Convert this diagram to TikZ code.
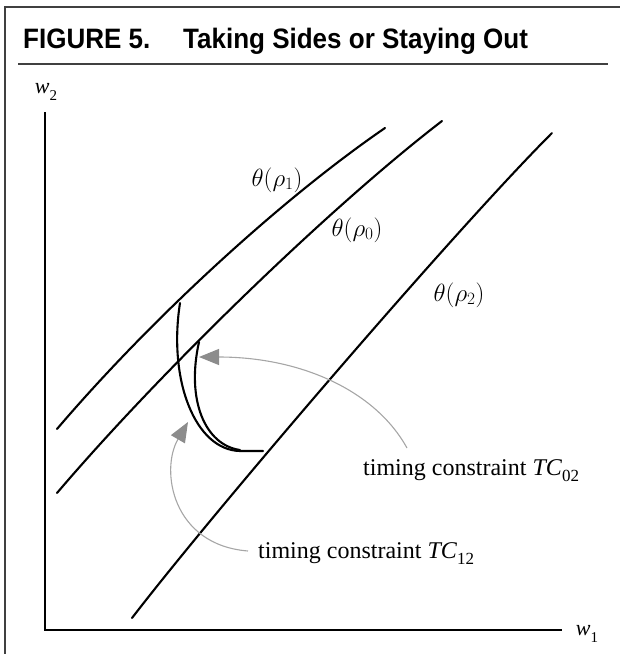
\documentclass[tikz,border=0pt]{standalone}
\usepackage{fontspec}
\setmainfont{Liberation Serif}
\newfontfamily\titlefont{Liberation Sans}
\usetikzlibrary{arrows.meta}
\tikzset{
  frame/.style={draw=black!75, line width=1.4pt},
  axis/.style={draw=black, line width=2.4pt},
  curveline/.style={draw=black, line width=2.1pt, line cap=round},
  tcline/.style={draw=black, line width=2.1pt, line cap=round},
  pointer/.style={draw=black!35, line width=1.1pt,
    -{Triangle[length=20pt,width=16pt,color=black!45,fill=black!45]}},
  lbl/.style={inner sep=0pt, font=\fontsize{24}{28}\selectfont},
  thlbl/.style={inner sep=0pt, font=\fontsize{25}{29}\selectfont},
  axlbl/.style={inner sep=0pt, font=\fontsize{22}{26}\selectfont},
  ttl/.style={inner sep=0pt, anchor=base west, font=\titlefont\bfseries\fontsize{26}{30}\selectfont}
}
\begin{document}
\begin{tikzpicture}[x=1pt,y=-1pt]
\useasboundingbox (0,0) rectangle (620,654);
% frame
\draw[frame] (5,654) -- (5,7) -- (620,7);
\node[ttl] (fig) at (23,48) {\scalebox{1}[1.08]{FIGURE 5.}};
\node[ttl] (title) at (183,48) {\scalebox{1}[1.08]{Taking Sides or Staying Out}};
\draw[frame] (18,64) -- (608,64);
% axes
\coordinate (ytop) at (45,112);
\coordinate (origin) at (45,630);
\coordinate (xend) at (562,630);
\draw[axis] (ytop) -- (origin) -- (xend);
\node[axlbl] (w2) at (46,92) {\textit{w}\raisebox{-0.28em}{\fontsize{15}{17}\selectfont 2}};
\node[axlbl] (w1) at (587,634) {\textit{w}\raisebox{-0.28em}{\fontsize{15}{17}\selectfont 1}};
% theta curves
\coordinate (r1a) at (57,429);
\coordinate (r1b) at (385,128);
\coordinate (r0a) at (57,493);
\coordinate (r0b) at (442,121);
\coordinate (r2a) at (132,618);
\coordinate (r2b) at (552,133);
\draw[curveline] (r1a) .. controls (150,320) and (280,200) .. (r1b);
\draw[curveline] (r0a) .. controls (160,372) and (330,207) .. (r0b);
\draw[curveline] (r2a) .. controls (215,510) and (455,230) .. (r2b);
\node[thlbl] (t1) at (277,180) {$\theta(\rho_1)$};
\node[thlbl] (t0) at (357,230) {$\theta(\rho_0)$};
\node[thlbl] (t2) at (459,295) {$\theta(\rho_2)$};
% timing constraint curves
\coordinate (tcAtop) at (180,303);
\coordinate (tcAbend) at (240,451);
\coordinate (tcAend) at (263,451);
\coordinate (tcBtop) at (199,342);
\coordinate (tcBend) at (240,450);
\draw[tcline] (tcAtop) .. controls (168,380) and (195,450) .. (tcAbend) -- (tcAend);
\draw[tcline] (tcBtop) .. controls (186,400) and (205,445) .. (tcBend);
% labels
\node[lbl, anchor=base west] (tc02) at (363,475) {timing constraint \textit{TC}\raisebox{-0.28em}{\fontsize{17}{20}\selectfont 02}};
\node[lbl, anchor=base west] (tc12) at (258,558) {timing constraint \textit{TC}\raisebox{-0.28em}{\fontsize{17}{20}\selectfont 12}};
% pointers
\coordinate (p1s) at (407,448);
\coordinate (p1e) at (199,357);
\coordinate (p2s) at (248,551);
\coordinate (p2e) at (188,422);
\draw[pointer] (p1s) .. controls (375,390) and (300,357) .. (p1e);
\draw[pointer] (p2s) .. controls (172,545) and (160,470) .. (p2e);
\end{tikzpicture}
\end{document}
